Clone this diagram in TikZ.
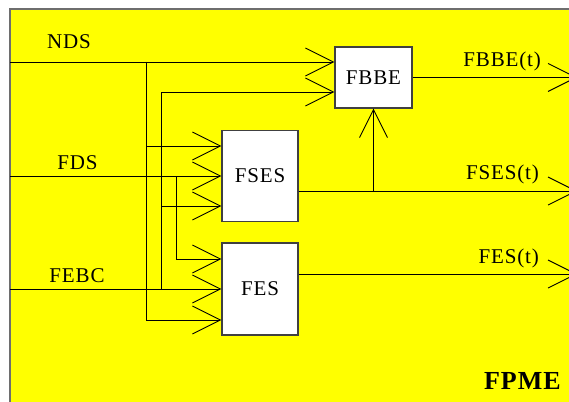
\documentclass[tikz,border=0pt]{standalone}
\usepackage{fontspec}
\setmainfont{Liberation Serif}[LetterSpace=4]
\usetikzlibrary{arrows.meta,calc}
\definecolor{bgyellow}{HTML}{FFFF00}
\definecolor{frame}{HTML}{6E6E6E}
\begin{document}
\begin{tikzpicture}[x=1pt,y=-1pt,
  every node/.style={font=\fontsize{21}{25}\selectfont},
  blk/.style={draw=black!75,fill=white,line width=1.1pt,inner sep=0pt},
  lbl/.style={inner sep=0pt},
  arr/.style={line width=0.9pt,-{Straight Barb[length=28pt,width=28pt,line width=0.9pt]}},
  wire/.style={line width=0.9pt}]
\useasboundingbox (0,0) rectangle (569,401);
\clip (0,0) rectangle (569,401);
\fill[white] (0,0) rectangle (569,401);
\filldraw[fill=bgyellow,draw=frame,line width=1.6pt] (10,9) rectangle (620,450);

% blocks
\node[blk,minimum width=77pt,minimum height=61pt] (fbbe) at (373.5,77.5) {FBBE};
\node[blk,minimum width=76pt,minimum height=91pt] (fses) at (260,176) {FSES};
\node[blk,minimum width=76pt,minimum height=92pt] (fes) at (260,289) {FES};

% coordinates
\coordinate (ndsin) at (10,62);
\coordinate (fdsin) at (10,176);
\coordinate (febcin) at (10,289);
\coordinate (ndsj) at (146,62);
\coordinate (ebcj) at (161,289);
\coordinate (fdsj) at (176,176);
\coordinate (sj) at (373.5,191);
\coordinate (fbbeout) at (577,77.5);
\coordinate (fsesout) at (577,191);
\coordinate (fesout) at (577,274);

% inputs
\draw[arr] (ndsin) -- (fbbe.west |- ndsin);
\draw[arr] (ndsj) |- ($(fses.west)+(0,-30)$);
\draw[arr] (ndsj) |- ($(fes.west)+(0,31)$);
\draw[arr] (ebcj) |- ($(fbbe.west)+(0,14.5)$);
\draw[arr] (ebcj) |- ($(fses.west)+(0,30)$);
\draw[arr] (fdsin) -- (fses.west);
\draw[arr] (fdsj) |- ($(fes.west)+(0,-30)$);
\draw[arr] (febcin) -- (fes.west);

% outputs
\draw[arr] (fbbe.east) -- (fbbeout);
\draw[arr] ($(fses.east)+(0,15)$) -- (fsesout);
\draw[arr] (sj) -- (fbbe.south);
\draw[arr] ($(fes.east)+(0,-15)$) -- (fesout);

% labels
\node[lbl,anchor=base] (lnds) at (69,49) {NDS};
\node[lbl,anchor=base] (lfds) at (77.5,169) {FDS};
\node[lbl,anchor=base] (lfebc) at (77,282) {FEBC};
\node[lbl,anchor=base east] (lfbbet) at (541,67) {FBBE(t)};
\node[lbl,anchor=base east] (lfsest) at (539,179) {FSES(t)};
\node[lbl,anchor=base east] (lfest) at (539,263) {FES(t)};
\node[lbl,anchor=base east,font=\fontsize{26}{30}\selectfont\bfseries] (lfpme) at (561,389) {FPME};
\end{tikzpicture}
\end{document}
